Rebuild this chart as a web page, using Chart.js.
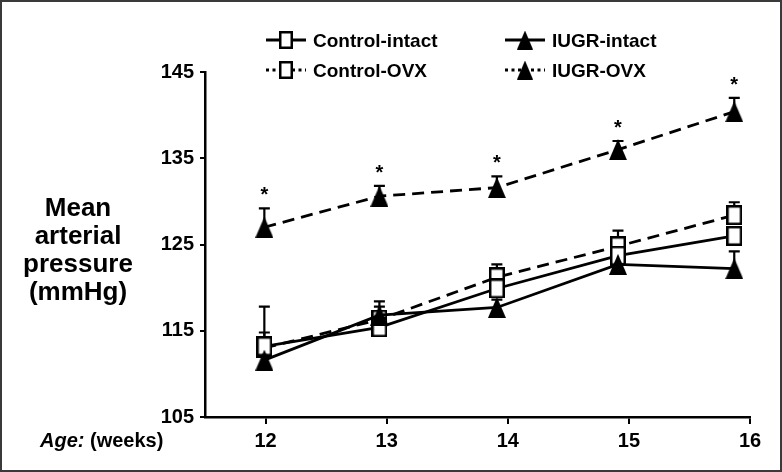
<!DOCTYPE html>
<html>
<head>
<meta charset="utf-8">
<script src="https://cdn.jsdelivr.net/npm/chart.js@4.4.1/dist/chart.umd.min.js"></script>
<style>
  body { margin: 0; background: #fff; }
  #wrap { width: 782px; height: 472px; position: relative; }
</style>
</head>
<body>
<div id="wrap"><canvas id="chart"></canvas></div>
<script>
// weeks as plotted (points sit slightly left of the tick marks)
const weeks = [11.99, 12.94, 13.91, 14.91, 15.87];
const xTicks = [12, 13, 14, 15, 16];
const yTicks = [105, 115, 125, 135, 145];

const controlIntact = [113.2, 115.4, 119.9, 123.7, 126.0];
const controlIntactErr = [4.6, 0.9, 0.9, 0.9, 0.9];
const controlOvx = [113.0, 116.3, 121.2, 124.8, 128.4];
const controlOvxErr = [1.8, 2.1, 1.5, 1.8, 1.5];
const iugrIntact = [111.6, 116.8, 117.7, 122.7, 122.2];
const iugrIntactErr = [0.9, 1.0, 0.9, 0.9, 2.0];
const iugrOvx = [127.0, 130.6, 131.6, 136.0, 140.4];
const iugrOvxErr = [2.2, 1.2, 1.3, 1.0, 1.6];
const iugrOvxStars = [true, true, true, true, true];

const FONT = '"Liberation Sans", Arial, sans-serif';

// marker images
function makeSquare(w, h) {
  const c = document.createElement('canvas');
  c.width = w; c.height = h;
  const g = c.getContext('2d');
  g.fillStyle = '#fff';
  g.fillRect(0, 0, w, h);
  g.strokeStyle = '#000';
  g.lineWidth = 2.5;
  g.strokeRect(1.25, 1.25, w - 2.5, h - 2.5);
  return c;
}
function makeTriangle(w, h) {
  const c = document.createElement('canvas');
  c.width = w; c.height = h;
  const g = c.getContext('2d');
  g.fillStyle = '#000';
  g.beginPath();
  g.moveTo(w / 2, 0);
  g.lineTo(w, h);
  g.lineTo(0, h);
  g.closePath();
  g.fill();
  return c;
}
const squareImg = makeSquare(16, 20);
const triangleImg = makeTriangle(18, 21);
const legendSquare = makeSquare(14, 18);
const legendTriangle = makeTriangle(16, 19);

const toPoints = arr => weeks.map((x, i) => ({ x: x, y: arr[i] }));

const dashed = [12, 7];

function series(label, values, errs, img, legendImg, dash, stars) {
  return {
    label: label,
    data: toPoints(values),
    errors: errs,
    stars: stars || null,
    legendImg: legendImg,
    legendDotted: dash.length > 0,
    borderColor: '#000',
    borderWidth: 2.8,
    borderDash: dash,
    pointStyle: img,
    pointRadius: 8,
    pointHoverRadius: 8,
    tension: 0,
    fill: false
  };
}

const errorBars = {
  id: 'errorBars',
  beforeDatasetsDraw(chart) {
    const ctx = chart.ctx;
    const y = chart.scales.y;
    ctx.save();
    ctx.strokeStyle = '#000';
    ctx.lineWidth = 2.2;
    chart.data.datasets.forEach((ds, i) => {
      const meta = chart.getDatasetMeta(i);
      meta.data.forEach((pt, j) => {
        const v = ds.data[j].y;
        const top = y.getPixelForValue(v + ds.errors[j]);
        ctx.beginPath();
        ctx.moveTo(pt.x, pt.y);
        ctx.lineTo(pt.x, top);
        ctx.moveTo(pt.x - 5.5, top);
        ctx.lineTo(pt.x + 5.5, top);
        ctx.stroke();
      });
    });
    ctx.restore();
  },
  afterDatasetsDraw(chart) {
    const ctx = chart.ctx;
    const y = chart.scales.y;
    ctx.save();
    ctx.fillStyle = '#000';
    ctx.font = 'bold 20px ' + FONT;
    ctx.textAlign = 'center';
    ctx.textBaseline = 'alphabetic';
    chart.data.datasets.forEach((ds, i) => {
      if (!ds.stars) return;
      const meta = chart.getDatasetMeta(i);
      meta.data.forEach((pt, j) => {
        if (!ds.stars[j]) return;
        const top = y.getPixelForValue(ds.data[j].y + ds.errors[j]);
        ctx.fillText('*', pt.x, top - 7);
      });
    });
    ctx.restore();
  }
};

const decorations = {
  id: 'decorations',
  afterDraw(chart) {
    const ctx = chart.ctx;
    ctx.save();

    // legend
    const entries = [
      { ds: 1, x: 266, y: 40 },
      { ds: 2, x: 266, y: 70 },
      { ds: 0, x: 505, y: 40 },
      { ds: 3, x: 505, y: 70 }
    ];
    entries.forEach(e => {
      const ds = chart.data.datasets[e.ds];
      ctx.strokeStyle = '#000';
      ctx.lineWidth = 2.8;
      ctx.setLineDash(ds.legendDotted ? [3, 3.5] : []);
      ctx.beginPath();
      ctx.moveTo(e.x, e.y);
      ctx.lineTo(e.x + 40, e.y);
      ctx.stroke();
      ctx.setLineDash([]);
      const img = ds.legendImg;
      ctx.drawImage(img, e.x + 20 - img.width / 2, e.y - img.height / 2);
      ctx.fillStyle = '#000';
      ctx.font = 'bold 19px ' + FONT;
      ctx.textAlign = 'left';
      ctx.textBaseline = 'alphabetic';
      ctx.fillText(ds.label, e.x + 47, e.y + 7);
    });

    // y title
    ctx.font = 'bold 26px ' + FONT;
    ctx.textAlign = 'center';
    ['Mean', 'arterial', 'pressure', '(mmHg)'].forEach((t, i) => {
      ctx.fillText(t, 78, 216 + i * 28);
    });

    // x label
    ctx.textAlign = 'left';
    ctx.font = 'italic bold 20px ' + FONT;
    ctx.fillText('Age:', 40, 447);
    const w = ctx.measureText('Age: ').width;
    ctx.font = 'bold 20px ' + FONT;
    ctx.fillText('(weeks)', 40 + w, 447);

    // frame
    ctx.strokeStyle = '#3a3a3a';
    ctx.lineWidth = 2;
    ctx.strokeRect(1, 1, chart.width - 2, chart.height - 2);
    ctx.restore();
  }
};

new Chart(document.getElementById('chart'), {
  type: 'line',
  data: {
    datasets: [
      series('IUGR-intact', iugrIntact, iugrIntactErr, triangleImg, legendTriangle, []),
      series('Control-intact', controlIntact, controlIntactErr, squareImg, legendSquare, []),
      series('Control-OVX', controlOvx, controlOvxErr, squareImg, legendSquare, dashed),
      series('IUGR-OVX', iugrOvx, iugrOvxErr, triangleImg, legendTriangle, dashed, iugrOvxStars)
    ]
  },
  options: {
    responsive: true,
    maintainAspectRatio: false,
    animation: false,
    events: [],
    layout: { padding: { left: 0, top: 72, right: 32, bottom: 0 } },
    plugins: {
      legend: { display: false },
      tooltip: { enabled: false }
    },
    scales: {
      x: {
        type: 'linear',
        min: 11.5,
        max: 16,
        afterBuildTicks: scale => {
          scale.ticks = xTicks.map(v => ({ value: v }));
        },
        afterFit: scale => { scale.height = 55; },
        border: { display: true, color: '#000', width: 2.5 },
        grid: {
          display: true,
          drawOnChartArea: false,
          drawTicks: true,
          tickLength: 7,
          color: '#000',
          lineWidth: 2
        },
        ticks: {
          color: '#000',
          padding: 5,
          maxRotation: 0,
          font: { family: FONT, size: 20, weight: 'bold' }
        }
      },
      y: {
        min: 105,
        max: 145,
        afterBuildTicks: scale => {
          scale.ticks = yTicks.map(v => ({ value: v }));
        },
        afterFit: scale => { scale.width = 205; },
        border: { display: true, color: '#000', width: 2.5 },
        grid: {
          display: true,
          drawOnChartArea: false,
          drawTicks: true,
          tickLength: 5,
          color: '#000',
          lineWidth: 2
        },
        ticks: {
          color: '#000',
          padding: 6,
          font: { family: FONT, size: 20, weight: 'bold' }
        }
      }
    }
  },
  plugins: [errorBars, decorations]
});
</script>
</body>
</html>
